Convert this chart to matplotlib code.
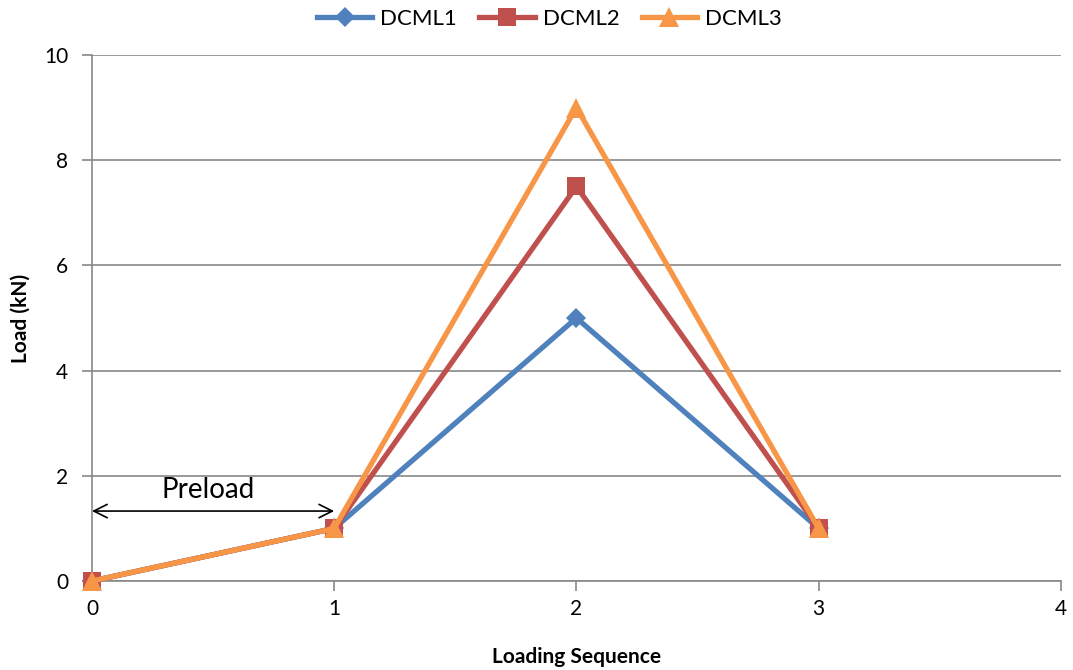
import matplotlib.pyplot as plt

# loading sequence and loads (kN)
steps = [0, 1, 2, 3]
dcml1 = [0, 1, 5, 1]
dcml2 = [0, 1, 7.5, 1]
dcml3 = [0, 1, 9, 1]
names = ["DCML1", "DCML2", "DCML3"]
colors = ["#4F81BD", "#C0504D", "#F79646"]
markers = ["D", "s", "^"]
msizes = [10, 13, 14]

plt.rcParams['font.family'] = ['Lato', 'DejaVu Sans']

fig = plt.figure(figsize=(10.73, 6.70), dpi=100)
ax = fig.add_axes([0.0857, 0.1328, 0.9030, 0.7852])

for y, name, c, m, ms in zip([dcml1, dcml2, dcml3], names, colors, markers, msizes):
    ax.plot(steps, y, color=c, lw=3.8, marker=m, markersize=ms,
            markeredgewidth=0, label=name, solid_joinstyle="miter",
            clip_on=False, zorder=3)

ax.set_xlim(0, 4)
ax.set_ylim(0, 10)
ax.set_xticks([0, 1, 2, 3, 4])
ax.set_yticks([0, 2, 4, 6, 8, 10])
ax.grid(axis="y", color="#878787", lw=1.2)
ax.set_axisbelow(True)
for s in ["top", "right"]:
    ax.spines[s].set_visible(False)
for s in ["left", "bottom"]:
    ax.spines[s].set_color("#878787")
    ax.spines[s].set_linewidth(1.2)
ax.tick_params(axis="both", colors="#878787", length=7, width=1.2,
               labelsize=15, labelcolor="black")
ax.tick_params(axis="x", pad=6)
ax.tick_params(axis="y", pad=10)

ax.set_xlabel("Loading Sequence", fontsize=15, fontweight="bold", labelpad=20)
ax.set_ylabel("Load (kN)", fontsize=15, fontweight="bold", labelpad=10)

# preload span
ax.annotate("", xy=(0, 1.33), xytext=(1, 1.33),
            arrowprops=dict(arrowstyle="<->", color="black", lw=1.2,
                            mutation_scale=24, shrinkA=0, shrinkB=0))
ax.text(0.48, 1.73, "Preload", fontsize=20, ha="center", va="center")

ax.legend(loc="center", bbox_to_anchor=(0.472, 1 + 36 / 526), ncol=3, frameon=False,
          fontsize=16, handlelength=2.5, columnspacing=1.0, borderaxespad=0,
          handletextpad=0.35)

fig.savefig("out.png", dpi=100)
